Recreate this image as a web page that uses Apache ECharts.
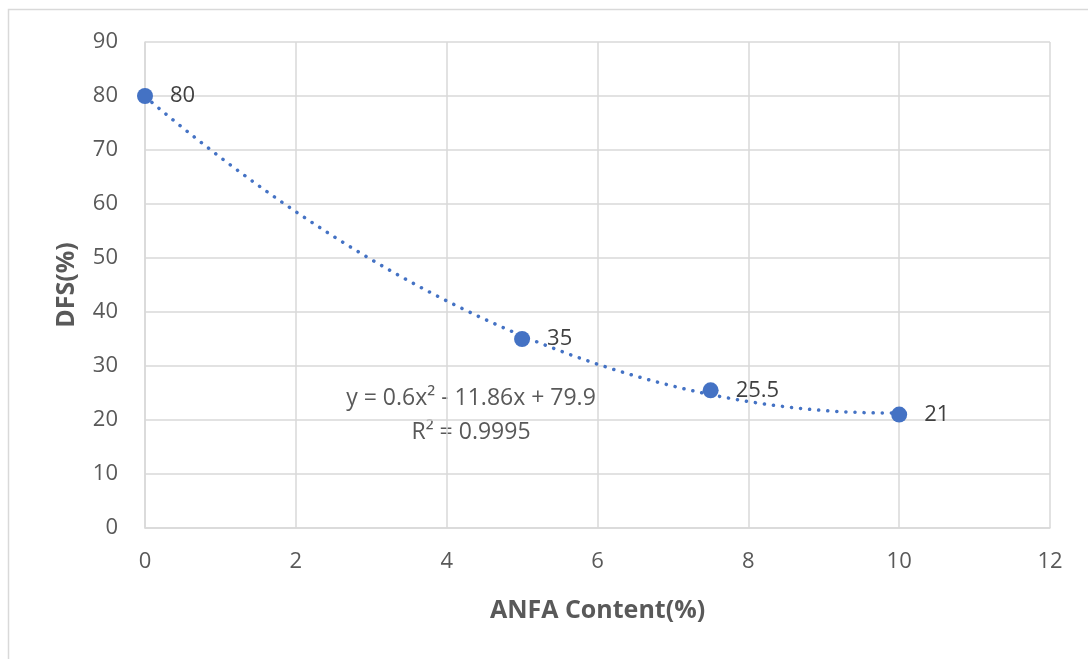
<!DOCTYPE html>
<html><head><meta charset="utf-8">
<script src="https://cdn.jsdelivr.net/npm/echarts@6/dist/echarts.min.js"></script>
<style>html,body{margin:0;padding:0;background:#fff}#c{width:1088px;height:659px}</style>
</head><body><div id="c"></div>
<script>
const xValues = [0, 5, 7.5, 10];
const yValues = [80, 35, 25.5, 21];
const trendCoefficients = [0.6, -11.86, 79.9]; // a, b, c from the chart's equation
const equationText = 'y = 0.6x² - 11.86x + 79.9';
const r2Text = 'R² = 0.9995';
const xTitle = 'ANFA Content(%)';
const yTitle = 'DFS(%)';

const trend = [];
for (let i = 0; i <= 100; i++) {
  const x = i / 10;
  trend.push([x, trendCoefficients[0]*x*x + trendCoefficients[1]*x + trendCoefficients[2]]);
}
const pts = xValues.map((x, i) => [x, yValues[i]]);
const font = '"Open Sans", "Liberation Sans", sans-serif';
const chart = echarts.init(document.getElementById('c'));
chart.setOption({
  animation: false,
  grid: {left: 145, right: 38, top: 42, bottom: 131},
  xAxis: {
    type: 'value', min: 0, max: 12, interval: 2,
    axisLine: {show: true, lineStyle: {color: '#d9d9d9', width: 1.5}},
    axisTick: {show: false},
    splitLine: {show: true, lineStyle: {color: '#d9d9d9', width: 1.5}},
    axisLabel: {color: '#595959', fontSize: 22, fontFamily: font, margin: 23},
    name: xTitle, nameLocation: 'middle', nameGap: 70,
    nameTextStyle: {color: '#595959', fontSize: 25, fontWeight: 'bold', fontFamily: font}
  },
  yAxis: {
    type: 'value', min: 0, max: 90, interval: 10,
    axisLine: {show: true, lineStyle: {color: '#d9d9d9', width: 1.5}},
    axisTick: {show: false},
    splitLine: {show: true, lineStyle: {color: '#d9d9d9', width: 1.5}},
    axisLabel: {color: '#595959', fontSize: 22, fontFamily: font, margin: 27},
    name: yTitle, nameLocation: 'middle', nameGap: 66,
    nameTextStyle: {color: '#595959', fontSize: 25, fontWeight: 'bold', fontFamily: font}
  },
  series: [
    {
      type: 'line', data: trend, showSymbol: false, silent: true,
      lineStyle: {color: '#4472C4', width: 3.5, type: [0.1, 9], cap: 'round'},
      z: 2
    },
    {
      type: 'scatter', data: pts, symbolSize: 16,
      itemStyle: {color: '#4472C4', opacity: 1},
      label: {show: true, position: 'right', distance: 17, color: '#404040', fontSize: 22, fontFamily: font,
        formatter: p => String(p.value[1])},
      z: 3
    }
  ],
  graphic: [
    {type: 'rect', shape: {x: 8.5, y: 9.5, width: 1200, height: 800}, style: {fill: null, stroke: '#d9d9d9', lineWidth: 1.5}, silent: true},
    {type: 'text', x: 471, y: 398, style: {text: equationText, fill: '#595959', font: '23px ' + font, align: 'center', verticalAlign: 'middle'}},
    {type: 'text', x: 471, y: 432, style: {text: r2Text, fill: '#595959', font: '23px ' + font, align: 'center', verticalAlign: 'middle'}}
  ]
});
</script></body></html>
